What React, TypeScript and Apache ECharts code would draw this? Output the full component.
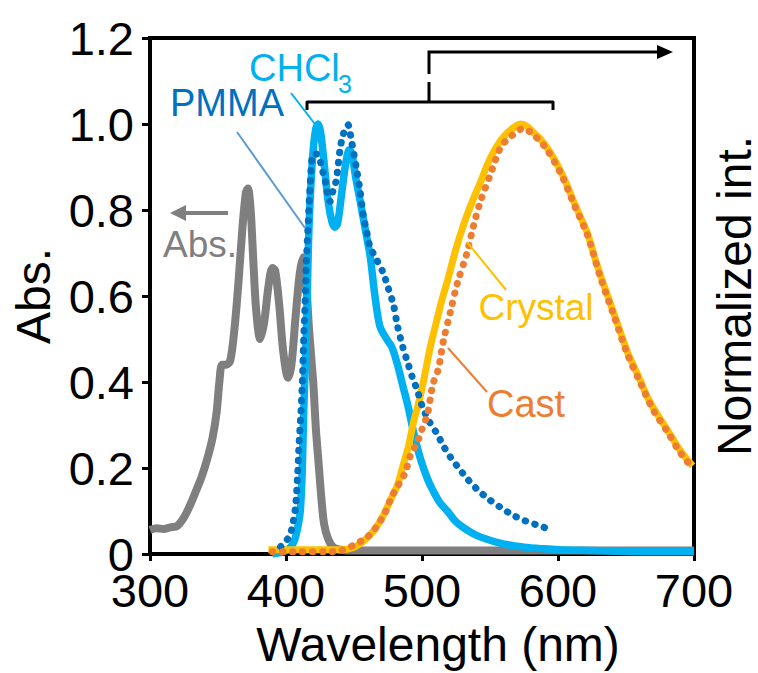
import React, { useEffect, useRef } from 'react';
import * as echarts from 'echarts';

// Axis ticks
const xMin = 300;
const xMax = 700;
const xStep = 100;
const yTickLabels = ['0', '0.2', '0.4', '0.6', '0.8', '1.0', '1.2'];

// Absorption (gray)
const absData: [number, number][] = [
  [300, 0.056], [305, 0.06], [310, 0.058], [315, 0.062], [320, 0.065], [325, 0.085],
  [329, 0.11], [333, 0.14], [338, 0.18], [342, 0.22], [346, 0.27], [349, 0.33],
  [351, 0.4], [353, 0.44], [356, 0.44], [359, 0.45], [362, 0.52], [365, 0.63],
  [368, 0.76], [370.5, 0.84], [372, 0.85], [374, 0.8], [376, 0.68], [378, 0.57],
  [381, 0.5], [384, 0.54], [387, 0.62], [390, 0.665], [392, 0.66], [395, 0.58],
  [398, 0.47], [401.5, 0.41], [404, 0.44], [407, 0.55], [410, 0.65], [412.5, 0.69],
  [415, 0.62], [417, 0.52], [420, 0.4], [422, 0.29], [424, 0.21], [426, 0.13],
  [428, 0.07], [431, 0.035], [435, 0.015], [440, 0.01], [450, 0.008], [500, 0.008],
  [600, 0.008], [700, 0.008],
];

// Emission in CHCl3 (light blue, solid)
const chcl3Data: [number, number][] = [
  [390, 0.0], [398, 0.005], [403, 0.015], [406, 0.03], [408.5, 0.06], [410.5, 0.1],
  [412, 0.2], [413, 0.33], [414.5, 0.47], [415.5, 0.58], [416.5, 0.72], [418, 0.84],
  [420, 0.94], [422, 0.99], [423.7, 1.0], [425.5, 0.98], [428, 0.91], [431, 0.82],
  [434, 0.77], [436, 0.76], [438, 0.77], [441, 0.84], [444, 0.91], [446.5, 0.94],
  [448.5, 0.93], [451, 0.88], [454.6, 0.82], [458, 0.76], [462, 0.69], [465, 0.61],
  [469, 0.53], [474, 0.5], [478, 0.48], [482, 0.44], [486, 0.39], [490, 0.34],
  [494, 0.28], [499, 0.22], [504, 0.175], [508, 0.148], [513, 0.12], [518.6, 0.1],
  [525, 0.075], [533, 0.056], [541, 0.042], [550, 0.032], [562, 0.022], [575, 0.016],
  [590, 0.012], [600, 0.01], [625, 0.008], [650, 0.006], [675, 0.005], [700, 0.005],
];

// Emission in PMMA (dark blue, dotted)
const pmmaData: [number, number][] = [
  [396, 0.017], [400, 0.03], [403, 0.045], [405, 0.07], [407, 0.11], [408.5, 0.18],
  [409.5, 0.25], [411, 0.33], [412, 0.4], [413, 0.5], [414, 0.58], [415, 0.68],
  [416.5, 0.78], [418, 0.87], [420, 0.93], [422.5, 0.93], [425, 0.915], [427, 0.89],
  [429, 0.866], [431, 0.83], [432.4, 0.82], [434.7, 0.846], [437, 0.87], [439.7, 0.94],
  [442, 0.975], [445.6, 0.998], [448, 0.963], [452, 0.893], [454.4, 0.846],
  [456.8, 0.788], [459.3, 0.75], [461.8, 0.715], [466.7, 0.684], [471.6, 0.653],
  [475, 0.62], [479, 0.58], [482, 0.53], [486, 0.48], [489, 0.45], [493, 0.41],
  [496.6, 0.38], [500, 0.345], [505, 0.31], [511, 0.28], [516, 0.25], [521, 0.225],
  [527, 0.2], [533, 0.176], [540, 0.152], [548, 0.13], [557, 0.11], [567, 0.09],
  [576, 0.077], [585, 0.067], [596, 0.055],
];

// Emission of crystal (gold, solid)
const crystalData: [number, number][] = [
  [387, 0.01], [400, 0.01], [420, 0.01], [440, 0.01], [449.5, 0.015], [455, 0.025],
  [462, 0.045], [467, 0.065], [471.6, 0.09], [476, 0.12], [479, 0.14], [482, 0.16],
  [486, 0.205], [490, 0.25], [494, 0.31], [497, 0.345], [501, 0.4], [506, 0.48],
  [511, 0.545], [515, 0.595], [518.7, 0.635], [525, 0.71], [530.5, 0.765], [537, 0.82],
  [543, 0.865], [548, 0.905], [552.6, 0.935], [558, 0.962], [563, 0.98], [568, 0.993],
  [572.5, 1.0], [577, 0.995], [582, 0.98], [587, 0.965], [592, 0.945], [597, 0.92],
  [602, 0.89], [607, 0.855], [611.5, 0.82], [617, 0.78], [621.8, 0.745], [626, 0.7],
  [631, 0.65], [636, 0.605], [641, 0.56], [646, 0.515], [651, 0.47], [656, 0.435],
  [661, 0.4], [665, 0.37], [670, 0.34], [675, 0.315], [680.7, 0.287], [685, 0.265],
  [690, 0.24], [695, 0.22], [699, 0.205],
];

// Emission of cast film (orange, dotted)
const castData: [number, number][] = [
  [390, 0.005], [410, 0.005], [430, 0.005], [440, 0.008], [449.5, 0.02], [455, 0.03],
  [460, 0.04], [465.7, 0.06], [470, 0.08], [473, 0.097], [478, 0.135], [482.6, 0.16],
  [487.8, 0.19], [491, 0.225], [496.6, 0.26], [500, 0.29], [504, 0.325], [506, 0.36],
  [508, 0.395], [512, 0.43], [515.7, 0.495], [521, 0.565], [526, 0.63], [533, 0.7],
  [538, 0.765], [543, 0.82], [550, 0.88], [557.7, 0.945], [563, 0.965], [567, 0.975],
  [574.7, 0.99], [580, 0.98], [585, 0.966], [592, 0.94], [602, 0.885], [611.5, 0.815],
  [621.8, 0.74], [631, 0.645], [641, 0.555], [651, 0.465], [661, 0.395], [670, 0.335],
  [680.7, 0.283], [690, 0.235], [699, 0.2],
];

const FONT = '"Liberation Sans", Arial, sans-serif';
const GRAY = '#7F7F7F';
const LIGHT_BLUE = '#00B0F0';
const DARK_BLUE = '#0070C0';
const GOLD = '#FFC000';
const ORANGE = '#ED7D31';

function txt(text: string, x: number, y: number, color: string, size: number, align = 'left') {
  return {
    type: 'text',
    x,
    y,
    silent: true,
    z: 200,
    style: {
      text,
      fill: color,
      fontSize: size,
      fontFamily: FONT,
      align,
      textAlign: align,
      verticalAlign: 'middle',
      textVerticalAlign: 'middle',
    },
  };
}

function seg(x1: number, y1: number, x2: number, y2: number, color: string, w: number) {
  return {
    type: 'line',
    silent: true,
    z: 200,
    shape: { x1, y1, x2, y2 },
    style: { stroke: color, lineWidth: w, lineCap: 'butt' },
  };
}

export default function App() {
  const ref = useRef<HTMLDivElement>(null);

  useEffect(() => {
    if (!ref.current) return;
    const chart = echarts.init(ref.current, null, { renderer: 'svg' });

    const axisLine = { show: true, onZero: false, lineStyle: { color: '#000', width: 4 } };
    const nameStyle = { fontSize: 48, color: '#000', fontFamily: FONT };

    chart.setOption({
      animation: false,
      backgroundColor: '#ffffff',
      grid: {
        left: 150,
        right: 64,
        top: 38,
        bottom: 119,
        show: true,
        borderColor: '#000',
        borderWidth: 4,
        backgroundColor: 'transparent',
        containLabel: false,
        outerBoundsMode: 'none',
      },
      xAxis: {
        type: 'value',
        min: xMin,
        max: xMax,
        interval: xStep,
        name: 'Wavelength (nm)',
        nameLocation: 'middle',
        nameGap: 66,
        nameTextStyle: { ...nameStyle, padding: [0, 0, 0, 32] },
        axisLine,
        axisTick: { show: true, inside: false, length: 7, lineStyle: { color: '#000', width: 3 } },
        axisLabel: { fontSize: 47, lineHeight: 34, color: '#000', fontFamily: FONT, margin: 19 },
        splitLine: { show: false },
      },
      yAxis: [
        {
          type: 'value',
          position: 'left',
          min: 0,
          max: 1.2,
          interval: 0.2,
          name: 'Abs.',
          nameLocation: 'middle',
          nameGap: 93,
          nameTextStyle: nameStyle,
          axisLine,
          axisTick: { show: true, inside: false, length: 8, lineStyle: { color: '#000', width: 3 } },
          axisLabel: {
            fontSize: 47,
            lineHeight: 34,
            color: '#000',
            fontFamily: FONT,
            margin: 16,
            formatter: (v: number) => yTickLabels[Math.round(v / 0.2)] ?? '',
          },
          splitLine: { show: false },
        },
        {
          type: 'value',
          position: 'right',
          min: 0,
          max: 1.2,
          interval: 0.2,
          name: 'Normalized int.',
          nameLocation: 'middle',
          nameRotate: 90,
          nameGap: 16,
          nameTextStyle: nameStyle,
          axisLine,
          axisTick: { show: false },
          axisLabel: { show: false },
          splitLine: { show: false },
        },
      ],
      series: [
        {
          name: 'Abs.',
          type: 'line',
          yAxisIndex: 0,
          data: absData,
          showSymbol: false,
          symbol: 'none',
          smooth: 0.3,
          lineStyle: { color: GRAY, width: 8, join: 'round' },
          z: 2,
        },
        {
          name: 'CHCl3',
          type: 'line',
          yAxisIndex: 1,
          data: chcl3Data,
          showSymbol: false,
          symbol: 'none',
          smooth: 0.3,
          lineStyle: { color: LIGHT_BLUE, width: 7.5, join: 'round' },
          z: 3,
        },
        {
          name: 'Crystal',
          type: 'line',
          yAxisIndex: 1,
          data: crystalData,
          showSymbol: false,
          symbol: 'none',
          smooth: 0.3,
          lineStyle: { color: GOLD, width: 7, join: 'round' },
          z: 4,
        },
        {
          name: 'PMMA',
          type: 'line',
          yAxisIndex: 1,
          data: pmmaData,
          showSymbol: false,
          symbol: 'none',
          smooth: 0.3,
          lineStyle: { color: DARK_BLUE, width: 7, type: [0.5, 9.5], cap: 'round' },
          z: 5,
        },
        {
          name: 'Cast',
          type: 'line',
          yAxisIndex: 1,
          data: castData,
          showSymbol: false,
          symbol: 'none',
          smooth: 0.3,
          lineStyle: { color: ORANGE, width: 7, type: [0.5, 9.5], cap: 'round' },
          z: 6,
        },
      ],
      graphic: [
        // CHCl3 label with subscript
        txt('CHCl', 249, 68, LIGHT_BLUE, 38),
        txt('3', 338, 84, LIGHT_BLUE, 25),
        seg(291, 93, 318, 128, LIGHT_BLUE, 2),
        // PMMA label
        txt('PMMA', 227, 103, DARK_BLUE, 38, 'center'),
        seg(237, 132, 305, 228, '#5B9BD5', 2),
        // Abs. label and arrow
        txt('Abs.', 200, 244, GRAY, 37, 'center'),
        seg(228, 213, 183, 213, GRAY, 4),
        {
          type: 'polygon',
          silent: true,
          z: 200,
          shape: { points: [[170, 213], [186, 205], [186, 221]] },
          style: { fill: GRAY },
        },
        // Crystal label
        txt('Crystal', 536, 307, GOLD, 37, 'center'),
        seg(467, 242, 506, 290, GOLD, 2),
        // Cast label
        txt('Cast', 526, 404, ORANGE, 38, 'center'),
        seg(448, 348, 487, 392, ORANGE, 2),
        // Bracket and arrow toward right axis
        {
          type: 'polyline',
          silent: true,
          z: 200,
          shape: { points: [[307, 110], [307, 102], [553, 102], [553, 110]] },
          style: { stroke: '#000', lineWidth: 3, fill: null, lineJoin: 'round' },
        },
        seg(429, 102, 429, 82, '#000', 3),
        {
          type: 'polyline',
          silent: true,
          z: 200,
          shape: { points: [[429, 74], [429, 52], [660, 52]] },
          style: { stroke: '#000', lineWidth: 3, fill: null },
        },
        {
          type: 'polygon',
          silent: true,
          z: 200,
          shape: { points: [[673, 52], [657, 45], [657, 59]] },
          style: { fill: '#000' },
        },
      ],
    });

    return () => chart.dispose();
  }, []);

  return (
    <div
      ref={ref}
      style={{ position: 'absolute', left: 0, top: 0, width: 758, height: 673 }}
    />
  );
}
